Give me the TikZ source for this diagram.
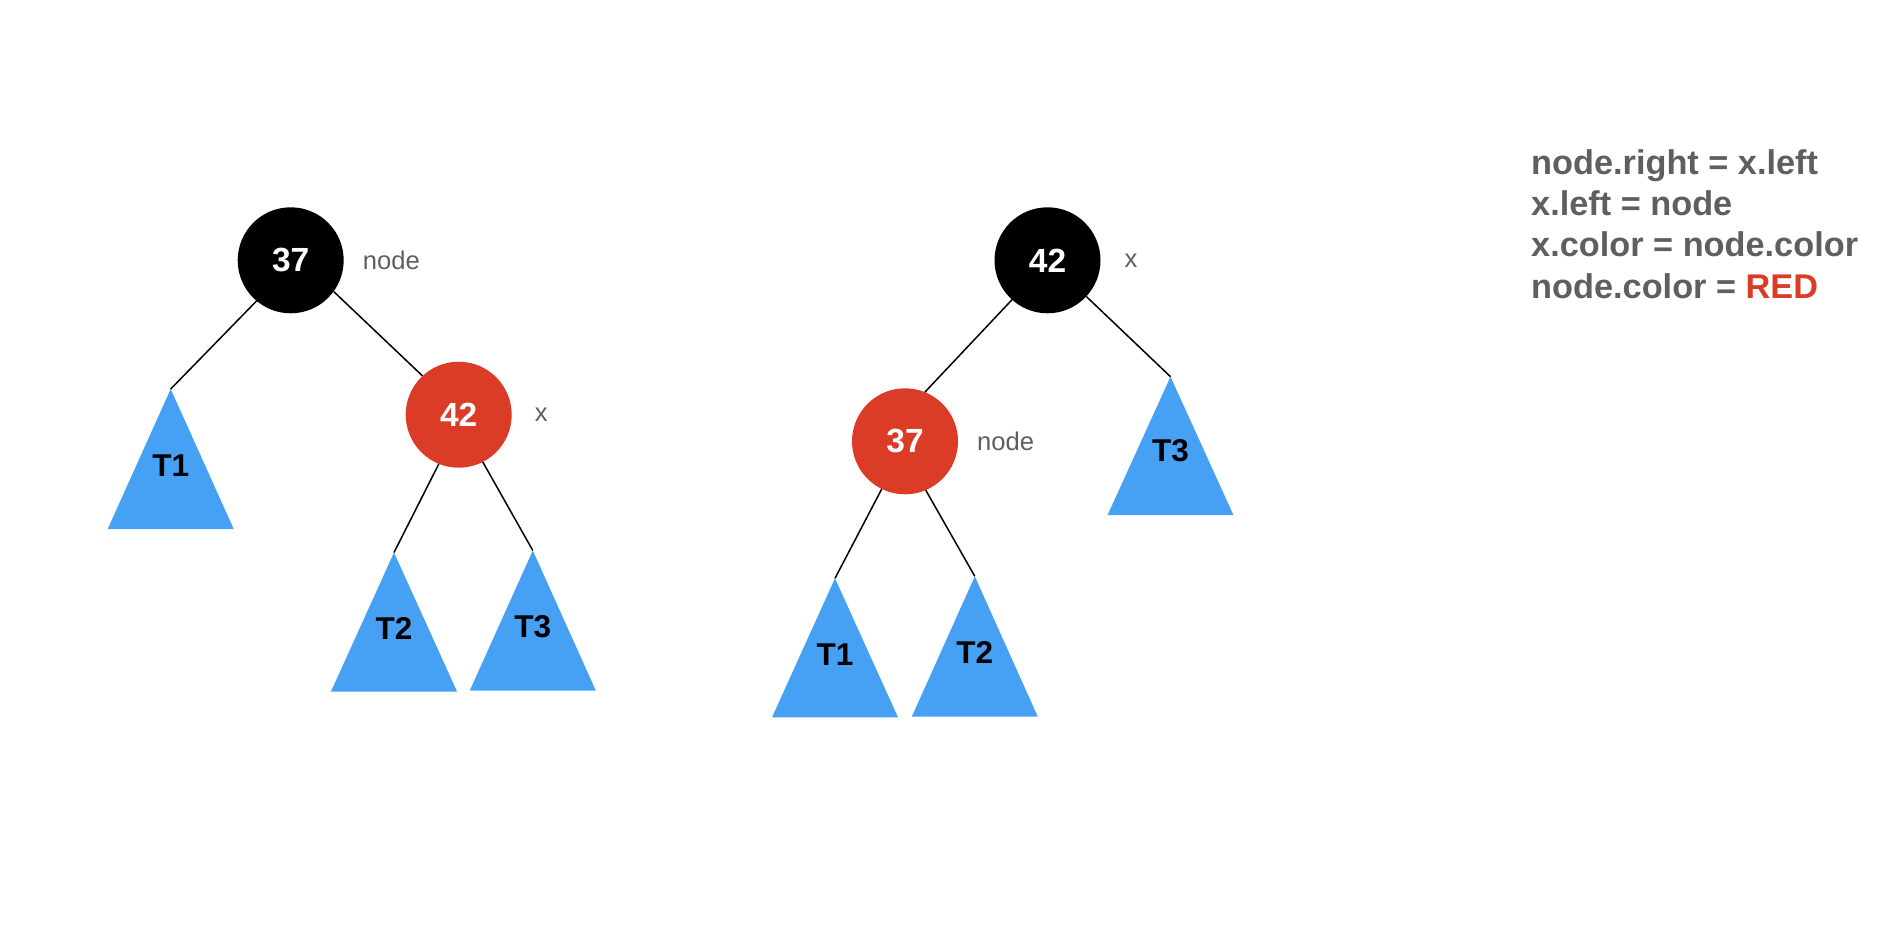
\documentclass[tikz,border=0pt]{standalone}
\usepackage{fontspec}
\setmainfont{Liberation Sans}
\usetikzlibrary{positioning}
\definecolor{rbred}{RGB}{219,60,40}
\definecolor{treeblue}{RGB}{70,161,245}
\definecolor{notegray}{RGB}{95,95,95}

\begin{document}
\begin{tikzpicture}[x=1pt, y=-1pt, node distance=19pt,
  blk/.style={circle, fill=black, minimum size=106pt, inner sep=0pt, outer sep=0pt, text=white, font=\bfseries\fontsize{33.5}{40}\selectfont},
  rd/.style={blk, fill=rbred},
  ptr/.style={inner sep=0pt, text=notegray, font=\fontsize{25.6}{30}\selectfont},
  tname/.style={anchor=base, inner sep=0pt, font=\bfseries\fontsize{31.5}{38}\selectfont},
  subtree/.style={fill=treeblue},
  link/.style={line width=1.5pt},
  rule/.style={anchor=base west, inner sep=0pt, text=notegray, font=\bfseries\fontsize{34.3}{41}\selectfont}]
\useasboundingbox (0,0) rectangle (1900,940);

% before the rotation
\node[blk] (nodeA) at (290.7,260.3) {37};
\node[ptr, right=of nodeA] (nodeAlbl) {node};
\node[rd] (xA) at (458.7,414.7) {42};
\node[ptr, right=23pt of xA] (xAlbl) {x};
\coordinate (t1A) at (170.7,389);
\coordinate (t2A) at (394,552.5);
\coordinate (t3A) at (532.8,550.5);
\fill[subtree] (t1A) -- ++(-63,140) -- ++(126,0) -- cycle;
\fill[subtree] (t2A) -- ++(-63,139) -- ++(126,0) -- cycle;
\fill[subtree] (t3A) -- ++(-63,140) -- ++(126,0) -- cycle;
\node[tname] (t1Alb) at ([yshift=-87pt]t1A) {T1};
\node[tname] (t2Alb) at ([yshift=-87pt]t2A) {T2};
\node[tname] (t3Alb) at ([yshift=-87pt]t3A) {T3};
\draw[link] (nodeA.230) -- (t1A);
\draw[link] (nodeA.-36) -- (xA.133);
\draw[link] (xA.248.5) -- (t2A);
\draw[link] (xA.297.5) -- (t3A);

% after the rotation
\node[blk] (xB) at (1047.5,260.3) {42};
\node[ptr, right=24pt of xB] (xBlbl) {x};
\node[rd] (nodeB) at (905,441.3) {37};
\node[ptr, right=of nodeB] (nodeBlbl) {node};
\coordinate (t3B) at (1170.5,376.7);
\coordinate (t1B) at (835,578.3);
\coordinate (t2B) at (974.8,576.3);
\fill[subtree] (t3B) -- ++(-63,138.5) -- ++(126,0) -- cycle;
\fill[subtree] (t1B) -- ++(-63,139) -- ++(126,0) -- cycle;
\fill[subtree] (t2B) -- ++(-63,140.4) -- ++(126,0) -- cycle;
\node[tname] (t3Blb) at ([yshift=-85pt]t3B) {T3};
\node[tname] (t1Blb) at ([yshift=-87pt]t1B) {T1};
\node[tname] (t2Blb) at ([yshift=-87pt]t2B) {T2};
\draw[link] (xB.228.5) -- (nodeB.68);
\draw[link] (xB.-43) -- (t3B);
\draw[link] (nodeB.244) -- (t1B);
\draw[link] (nodeB.293.5) -- (t2B);

\node[rule] (r1) at (1531,174.5) {node.right = x.left};
\node[rule] (r2) at (1531,215) {x.left = node};
\node[rule] (r3) at (1531,256.5) {x.color = node.color};
\node[rule] (r4) at (1531,298.5) {node.color = \textcolor{rbred}{RED}};
\end{tikzpicture}
\end{document}
